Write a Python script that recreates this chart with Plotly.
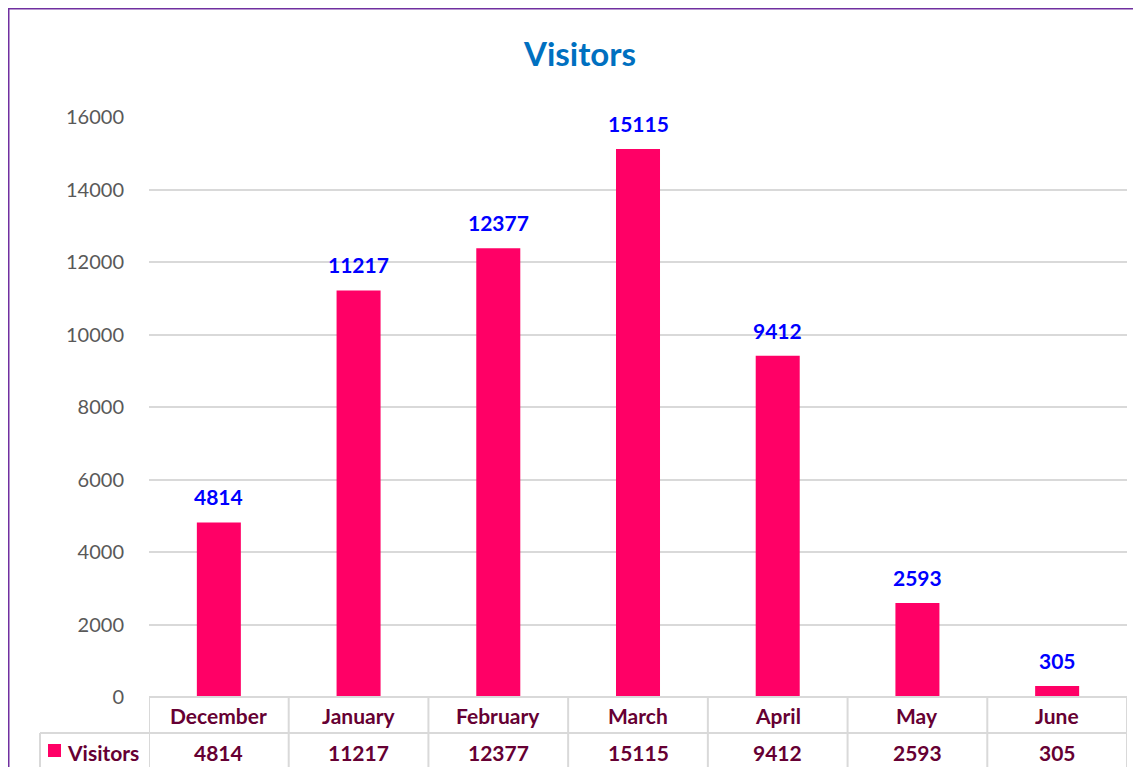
import plotly.graph_objects as go

months = ["December", "January", "February", "March", "April", "May", "June"]
visitors = [4814, 11217, 12377, 15115, 9412, 2593, 305]
series_name = "Visitors"
y_ticks = [0, 2000, 4000, 6000, 8000, 10000, 12000, 14000, 16000]

# page body has an 8px margin; figure is drawn at offset (8, 8) in the window
OFF = 8
W, H = 1141 - OFF, 767 - OFF
L, R, T, B = 149 - OFF, 14, 117 - OFF, 70
PW, PH = W - L - R, H - T - B
def px(x):  # reference window pixel -> paper
    return (x - OFF - L) / PW
def py(y):
    return (OFF + T + PH - y) / PH

FONT = "Lato, Calibri, Carlito, sans-serif"
BAR = "#FF0066"
TABLE_TXT = "#660033"
GRID = "#D9D9D9"

xs = list(range(len(months)))

fig = go.Figure()
fig.add_trace(go.Bar(
    x=xs, y=visitors, name=series_name,
    marker=dict(color=BAR, line=dict(width=0)),
    hoverinfo="x+y",
))

shapes = []
line = dict(color=GRID, width=2)
shapes.append(dict(type="line", xref="paper", yref="paper", x0=0, x1=1, y0=py(697), y1=py(697), line=line))
shapes.append(dict(type="line", xref="paper", yref="paper", x0=px(40), x1=1, y0=py(733), y1=py(733), line=line))
for i in range(len(months) + 1):
    shapes.append(dict(type="line", xref="x", yref="paper", x0=i - 0.5, x1=i - 0.5,
                       y0=py(697), y1=py(800), line=line))
shapes.append(dict(type="line", xref="paper", yref="paper", x0=px(40), x1=px(40),
                   y0=py(733), y1=py(800), line=line))
shapes.append(dict(type="rect", xref="paper", yref="paper", x0=px(48), x1=px(61),
                   y0=py(757), y1=py(744), fillcolor=BAR, line=dict(width=0)))
shapes.append(dict(type="rect", xref="paper", yref="paper", x0=px(8.5), x1=px(1160),
                   y0=py(8.5), y1=py(800), line=dict(color="#7030A0", width=2),
                   fillcolor="rgba(0,0,0,0)", layer="below"))

annotations = []
# data labels above bars
for i, v in enumerate(visitors):
    annotations.append(dict(x=i, y=v, xref="x", yref="y", text=str(v), showarrow=False,
                            font=dict(family=FONT, size=21, color="#0000FF", weight="bold"),
                            xanchor="center", yanchor="bottom", yshift=11))
tfont = dict(family=FONT, size=21, color=TABLE_TXT, weight="bold")
for i, (m, v) in enumerate(zip(months, visitors)):
    annotations.append(dict(x=i, y=py(716), xref="x", yref="paper", text=m, showarrow=False,
                            font=tfont, xanchor="center", yanchor="middle"))
    annotations.append(dict(x=i, y=py(752), xref="paper" if False else "x", yref="paper", text=str(v),
                            showarrow=False, font=tfont, xanchor="center", yanchor="middle"))
annotations.append(dict(x=px(65), y=py(752), xref="paper", yref="paper", text=series_name, showarrow=False,
                        font=tfont, xanchor="left", yanchor="middle"))
annotations.append(dict(x=px(579), y=py(53), xref="paper", yref="paper", text="Visitors", showarrow=False,
                        font=dict(family=FONT, size=33, color="#0070C0", weight="bold"),
                        xanchor="center", yanchor="middle"))

fig.update_layout(
    width=W, height=H, autosize=False,
    margin=dict(l=L, r=R, t=T, b=B, pad=0),
    paper_bgcolor="white", plot_bgcolor="white",
    showlegend=False, bargap=0.685,
    shapes=shapes, annotations=annotations,
    xaxis=dict(range=[-0.5, len(months) - 0.5], showticklabels=False, showgrid=False,
               zeroline=False, showline=False, ticks=""),
    yaxis=dict(range=[0, 16000], tickvals=y_ticks, ticktext=[str(t) for t in y_ticks],
               showgrid=True, gridcolor=GRID, gridwidth=2, zeroline=False, showline=False,
               ticks="outside", ticklen=20, tickcolor="rgba(0,0,0,0)",
               tickfont=dict(family=FONT, size=20, color="#595959")),
)

fig.write_html("out.html")
